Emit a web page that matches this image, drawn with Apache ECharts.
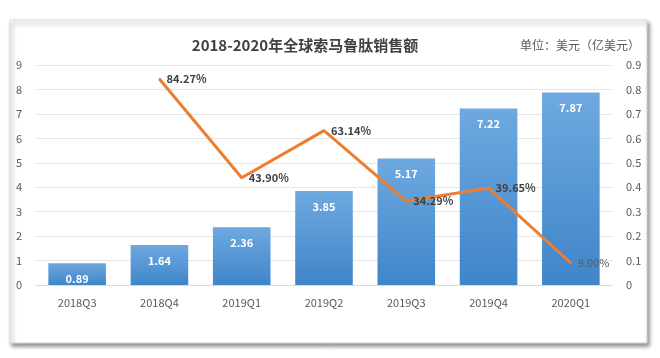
<!DOCTYPE html>
<html><head><meta charset="utf-8">
<script src="https://cdn.jsdelivr.net/npm/echarts@6/dist/echarts.min.js"></script>
<style>html,body{margin:0;padding:0;background:#fff}#c{width:660px;height:358px}</style>
</head><body><div id="c"></div>
<script>
var categories = ['2018Q3','2018Q4','2019Q1','2019Q2','2019Q3','2019Q4','2020Q1'];
var sales = [0.89, 1.64, 2.36, 3.85, 5.17, 7.22, 7.87];
var growth = [null, 0.8427, 0.4390, 0.6314, 0.3429, 0.3965, 0.0900];
var leftTicks = [0,1,2,3,4,5,6,7,8,9];

var chart = echarts.init(document.getElementById('c'));
var font = '"Noto Sans CJK SC","Noto Sans",sans-serif';
var growthData = growth.map(function(v, i){
  if (v === null) return '-';
  var o = {value: v};
  if (i === growth.length - 1) o.label = {fontWeight: 'normal', color: '#595959'};
  return o;
});
chart.setOption({
  animation: false,
  graphic: [{
    type: 'rect', shape: {x: 10, y: 20, width: 637, height: 323},
    style: {fill: '#fff', stroke: '#d9d9d9', lineWidth: 1, shadowBlur: 4, shadowOffsetX: 2, shadowOffsetY: 3, shadowColor: 'rgba(0,0,0,0.45)'},
    z: -10
  }, {
    type: 'text', left: 520, top: 39,
    style: {text: '单位：美元（亿美元）', fill: '#595959', font: '12px ' + font}
  }],
  title: {
    text: '2018-2020年全球索马鲁肽销售额', left: 300, top: 33, textAlign: 'center',
    textStyle: {fontSize: 15, fontWeight: 'bold', color: '#404040', fontFamily: font}
  },
  grid: {left: 36, right: 48, top: 65, bottom: 73},
  xAxis: {
    type: 'category', data: categories,
    axisLine: {lineStyle: {color: '#d9d9d9'}}, axisTick: {show: false},
    axisLabel: {color: '#595959', fontSize: 11, margin: 12, fontFamily: font}
  },
  yAxis: [{
    type: 'value', min: 0, max: 9, interval: 1,
    axisLabel: {color: '#595959', fontSize: 11, margin: 14, fontFamily: font},
    splitLine: {lineStyle: {color: '#e6e6e6'}}, axisLine: {show: false}, axisTick: {show: false}
  }, {
    type: 'value', min: 0, max: 0.9, interval: 0.1,
    axisLabel: {color: '#595959', fontSize: 11, margin: 14, fontFamily: font,
      formatter: function(v){ return v === 0 ? '0' : v.toFixed(1); }},
    splitLine: {show: false}, axisLine: {show: false}, axisTick: {show: false}
  }],
  series: [{
    type: 'bar', data: sales, barWidth: '70%',
    itemStyle: {color: new echarts.graphic.LinearGradient(0,0,0,1,[{offset:0,color:'#6ea9e0'},{offset:1,color:'#3f85c9'}])},
    label: {show: true, position: 'insideTop', distance: 10, color: '#fff', fontWeight: 'bold', fontSize: 11, fontFamily: font,
      formatter: function(p){ return p.value.toFixed(2); }}
  }, {
    type: 'line', yAxisIndex: 1, data: growthData, symbol: 'circle', symbolSize: 2, showSymbol: true,
    itemStyle: {color: '#ed7d31'}, connectNulls: false,
    lineStyle: {color: '#ed7d31', width: 3},
    label: {show: true, position: 'right', distance: 6, color: '#404040', fontWeight: 'bold', fontSize: 11, fontFamily: font,
      formatter: function(p){ return (Number(p.value)*100).toFixed(2) + '%'; }},
    z: 5
  }]
});
</script></body></html>
